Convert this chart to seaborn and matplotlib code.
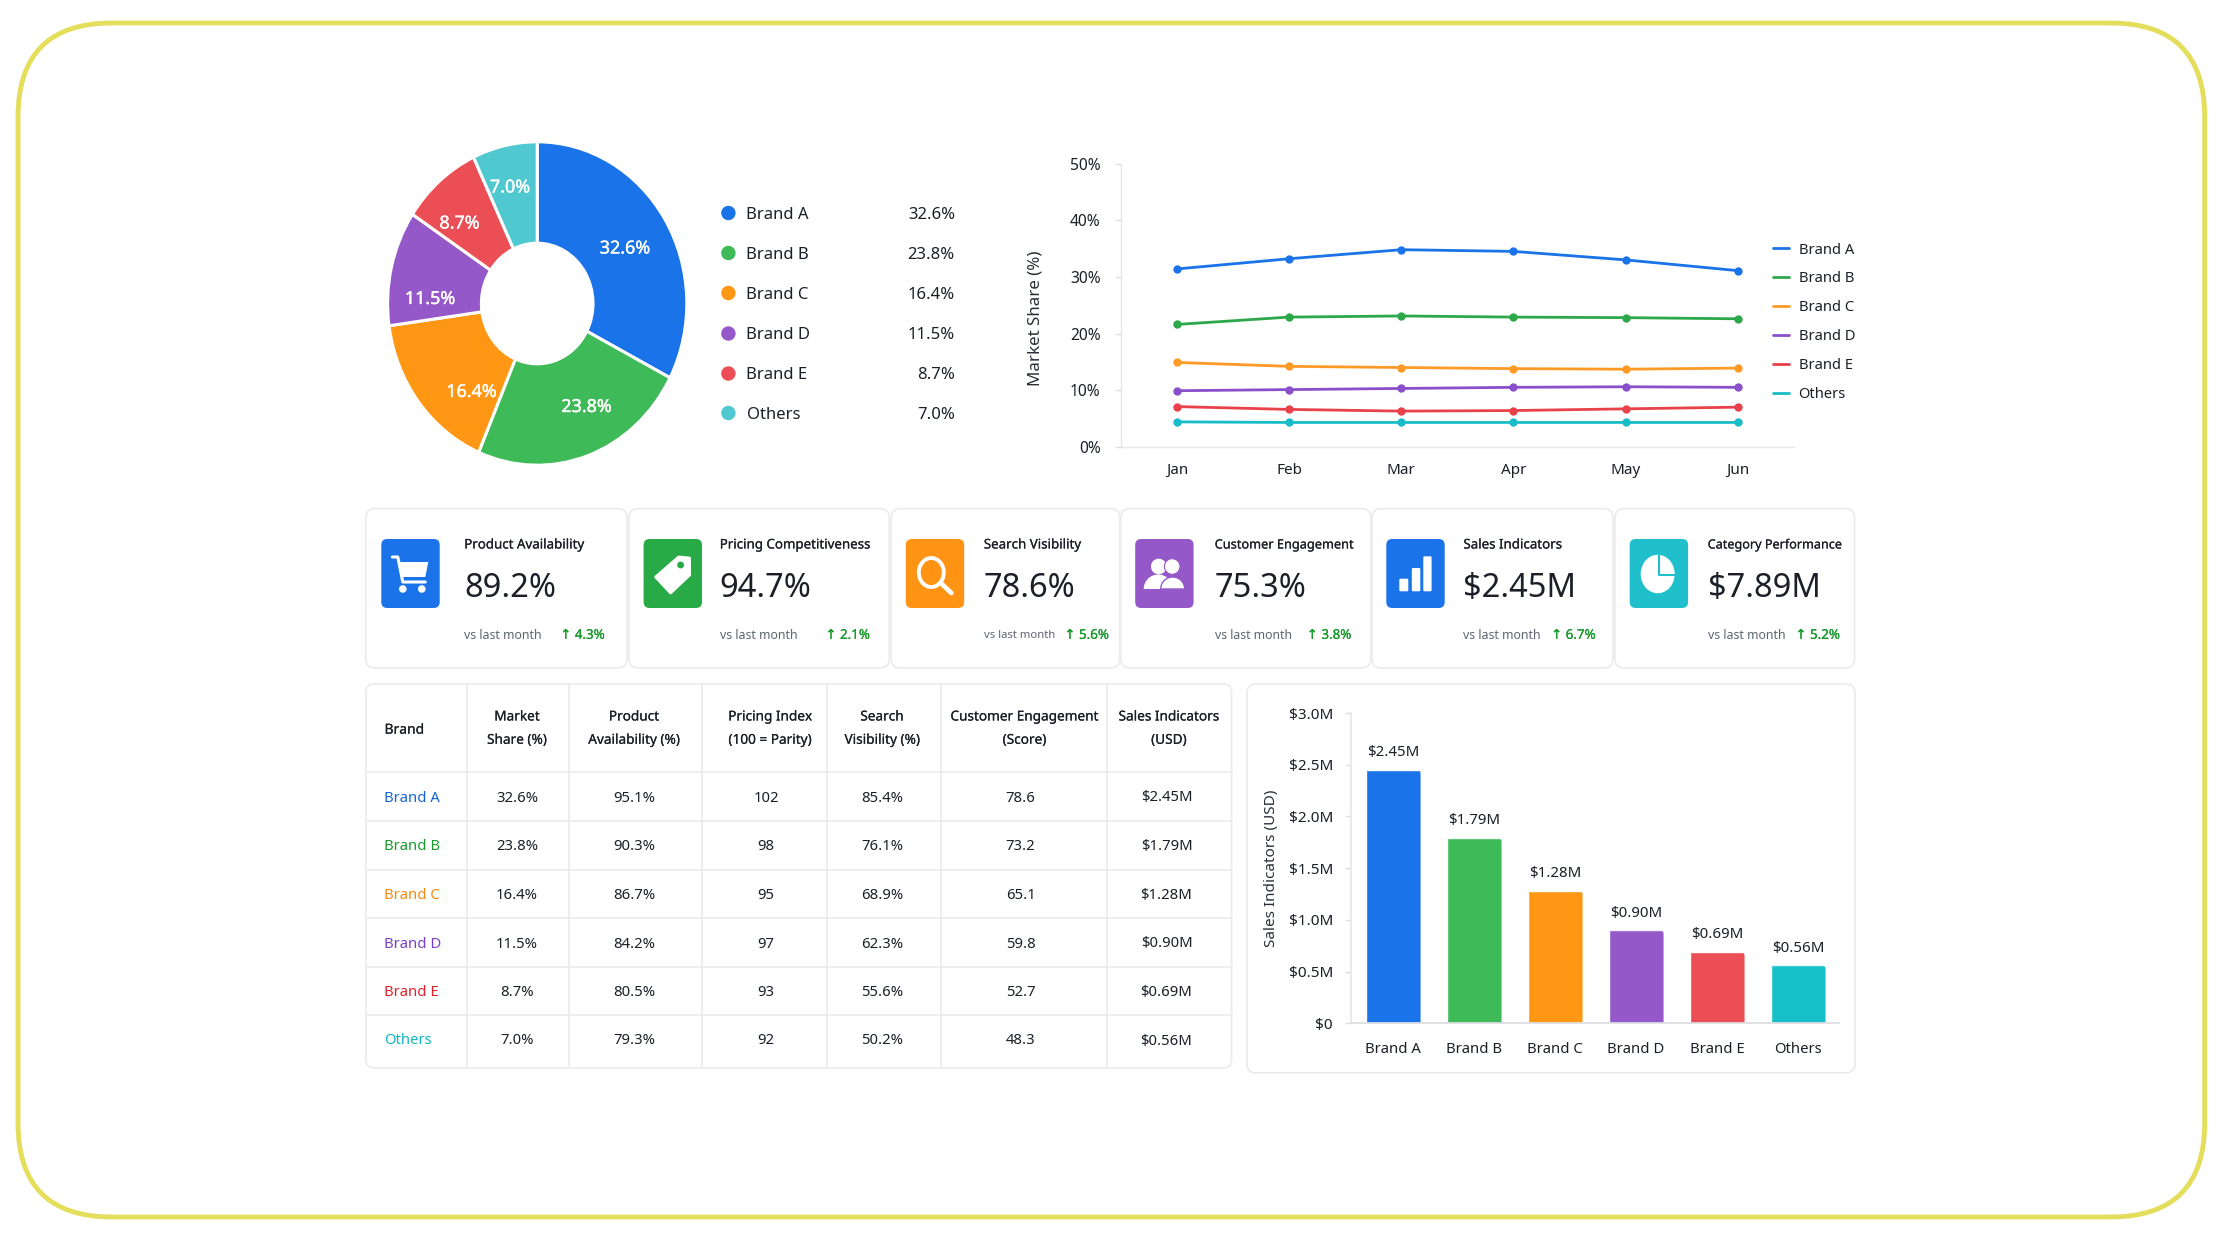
import numpy as np
import pandas as pd
import matplotlib
matplotlib.use("Agg")
import matplotlib.pyplot as plt
import matplotlib.patheffects as pe
from matplotlib.patches import FancyBboxPatch, Circle, Ellipse, Polygon, Wedge
from matplotlib.transforms import IdentityTransform
import seaborn as sns

WIDTH, HEIGHT = 2223, 1240

brands = ["Brand A", "Brand B", "Brand C", "Brand D", "Brand E", "Others"]
share = [32.6, 23.8, 16.4, 11.5, 8.7, 7.0]
sales = [2.45, 1.79, 1.28, 0.90, 0.69, 0.56]
months = ["Jan", "Feb", "Mar", "Apr", "May", "Jun"]

trend_a = [31.4, 33.2, 34.8, 34.5, 33.0, 31.1]
trend_b = [21.6, 22.9, 23.1, 22.9, 22.8, 22.6]
trend_c = [14.9, 14.2, 14.0, 13.8, 13.7, 13.9]
trend_d = [9.9, 10.1, 10.3, 10.5, 10.6, 10.5]
trend_e = [7.1, 6.6, 6.3, 6.4, 6.7, 7.0]
trend_o = [4.4, 4.3, 4.3, 4.3, 4.3, 4.3]

availability = ["95.1%", "90.3%", "86.7%", "84.2%", "80.5%", "79.3%"]
pricing = ["102", "98", "95", "97", "93", "92"]
visibility = ["85.4%", "76.1%", "68.9%", "62.3%", "55.6%", "50.2%"]
engagement = ["78.6", "73.2", "65.1", "59.8", "52.7", "48.3"]

kpi_titles = ["Product Availability", "Pricing Competitiveness", "Search Visibility",
              "Customer Engagement", "Sales Indicators", "Category Performance"]
kpi_values = ["89.2%", "94.7%", "78.6%", "75.3%", "$2.45M", "$7.89M"]
kpi_deltas = ["4.3%", "2.1%", "5.6%", "3.8%", "6.7%", "5.2%"]

pie_colors = ["#1a73e8", "#3fba59", "#ff9714", "#9558c9", "#eb4f55", "#50c8cf"]
bar_colors = ["#1a73e8", "#3fba59", "#ff9714", "#9558c9", "#eb4f55", "#17c0c9"]
line_colors = ["#1a73e8", "#2ca84a", "#ff9a27", "#8a4fcb", "#e8414a", "#17bcc8"]
text_colors = ["#1565d0", "#189a2e", "#f58a12", "#7b3fc4", "#e0202a", "#12b5bf"]
icon_colors = ["#1a73e8", "#28ab46", "#ff9414", "#9558c9", "#1a73e8", "#1fc0cc"]
INK = "#1b1f27"
GREY = "#5f6570"
BORDER = "#eaebed"
UP = "#17992c"

sns.set_theme(style="white")
plt.rcParams["font.family"] = ["Noto Sans", "DejaVu Sans"]
plt.rcParams["text.color"] = INK

fig = plt.figure(figsize=(WIDTH / 100, HEIGHT / 100), dpi=100, facecolor="white")

# Light outline that thickens titles and emphasised numbers
EMPH = [pe.withStroke(linewidth=0.12, foreground=INK)]
EMPH_WHITE = [pe.withStroke(linewidth=0.25, foreground="white")]
EMPH_UP = [pe.withStroke(linewidth=0.15, foreground=UP)]


def px_axes(left, top, right, bottom, **kw):
    """Axes placed by pixel edges, measured from the top-left of the figure."""
    return fig.add_axes([left / WIDTH, 1 - bottom / HEIGHT,
                         (right - left) / WIDTH, (bottom - top) / HEIGHT], **kw)


# Full-figure layer in pixel units for the frame, cards, table and icons
page = px_axes(0, 0, WIDTH, HEIGHT)
page.set_xlim(0, WIDTH)
page.set_ylim(HEIGHT, 0)
page.axis("off")


def rounded(ax, x0, y0, x1, y1, radius, **kw):
    patch = FancyBboxPatch((x0, y0), x1 - x0, y1 - y0,
                           boxstyle=f"round,pad=0,rounding_size={radius}", **kw)
    ax.add_patch(patch)
    return patch


rounded(page, 18, 23, 2204.7, 1217, 94, fc="white", ec="#e5dd5c", lw=3.5)

# --- Donut ---------------------------------------------------------------
donut = px_axes(387.6, 141.8, 686.8, 465.2)
donut.pie(share, colors=pie_colors, startangle=90, counterclock=False, radius=1,
          wedgeprops=dict(width=0.627, edgecolor="white", linewidth=2.2))
donut.set_aspect("auto")
donut.set_xlim(-1, 1)
donut.set_ylim(-1, 1)
donut.patch.set_alpha(0)
pie_label_xy = [(625, 248.5), (586.5, 407), (471.5, 392), (430, 299), (459.5, 223.5), (510, 187.5)]
for value, (lx, ly) in zip(share, pie_label_xy):
    donut.text(lx, ly, f"{value:.1f}%", color="white", fontsize=12.9, ha="center", va="center",
               transform=page.transData, path_effects=EMPH_WHITE, zorder=10)

legend_rows = [213, 253, 293, 333.5, 373.5, 413]
for name, value, colour, y in zip(brands, share, pie_colors, legend_rows):
    page.add_patch(Circle((728.4, y), 7.2, fc=colour, ec="none"))
    page.text(746.5, y + 1.8, name, fontsize=12, ha="left", va="center")
    page.text(955, y + 1.8, f"{value:.1f}%", fontsize=12, ha="right", va="center")

# --- Monthly share lines ---------------------------------------------------
trend_frame = pd.DataFrame({
    "month": months * 6,
    "share": trend_a + trend_b + trend_c + trend_d + trend_e + trend_o,
    "brand": np.repeat(brands, 6),
})
lines = px_axes(1120.7, 163.6, 1794, 446.8)
lines.patch.set_alpha(0)
sns.lineplot(data=trend_frame, x="month", y="share", hue="brand", hue_order=brands,
             palette=dict(zip(brands, line_colors)), marker="o", markersize=6,
             markeredgewidth=0, linewidth=2, sort=False, ax=lines)
lines.set_xlim(-0.5, 5.5)
lines.set_ylim(0, 50)
lines.set_yticks(range(0, 51, 10), [f"{v}%" for v in range(0, 51, 10)])
lines.set_xlabel("")
lines.set_ylabel("Market Share (%)", fontsize=12.2, color="#2a2e36", labelpad=0)
lines.yaxis.set_label_coords(1043, 318, transform=page.transData)
lines.tick_params(axis="y", length=4, width=1, color="#dddfe2", labelsize=11.2,
                  labelcolor=INK, pad=10.5, left=True)
lines.tick_params(axis="x", length=0, labelsize=11, labelcolor=INK, pad=11.5)
sns.despine(ax=lines)
for side in ("left", "bottom"):
    lines.spines[side].set_color("#e6e7ea")
    lines.spines[side].set_linewidth(1)
handles, labels = lines.get_legend_handles_labels()
lines.legend(handles, labels, loc="upper left", frameon=False, fontsize=10.6,
             bbox_to_anchor=(1772.5, 242.5), bbox_transform=page.transData,
             borderaxespad=0, borderpad=0, labelspacing=0.945, handlelength=1.12,
             handletextpad=0.65, labelcolor=INK)
for handle in lines.get_legend().legend_handles:
    handle.set_marker("")

# --- KPI cards -------------------------------------------------------------
card_edges = [(365.8, 627), (629, 889.3), (891.3, 1119.7), (1120.7, 1370.8), (1372, 1613), (1615, 1854.5)]
icon_lefts = [381.3, 643.6, 905.8, 1135.2, 1386.3, 1629.7]
text_lefts = [464.2, 719.7, 983.8, 1214.7, 1463.4, 1707.7]
delta_rights = [604.8, 870, 1109, 1351.4, 1595.7, 1840]
title_sizes = [9.6, 9.6, 9.6, 9.2, 9.6, 9.1]
caption_sizes = [8.9, 8.9, 8.1, 8.8, 8.9, 8.9]
ICON_W, ICON_H = 58.4, 69
ICON_TOP = 539


def draw_icon(kind, x, y, back):
    w = dict(fc="white", ec="none", zorder=5)
    if kind == 0:  # shopping cart
        page.plot([x + 11, x + 16.5, x + 21.5, x + 44], [y + 18, y + 18, y + 43, y + 43],
                  color="white", lw=2.2, zorder=5, solid_joinstyle="round")
        page.add_patch(Polygon([(x + 18, y + 23), (x + 47, y + 23), (x + 44, y + 38), (x + 21, y + 38)], **w))
        page.add_patch(Circle((x + 21.5, y + 50), 3.8, **w))
        page.add_patch(Circle((x + 40.5, y + 50), 3.8, **w))
    elif kind == 1:  # price tag
        page.add_patch(Polygon([(x + 12, y + 38), (x + 35, y + 18), (x + 46, y + 19), (x + 46, y + 36), (x + 27, y + 54)],
                               fc="white", ec="white", lw=2, joinstyle="round", zorder=5))
        page.add_patch(Circle((x + 37, y + 26), 3.4, fc=back, ec="none", zorder=6))
    elif kind == 2:  # magnifier
        page.add_patch(Ellipse((x + 25.5, y + 33.5), 25, 29, fc="none", ec="white", lw=2.8, zorder=5))
        page.plot([x + 35, x + 45.5], [y + 44, y + 54], color="white", lw=3.4, zorder=5,
                  solid_capstyle="round")
    elif kind == 3:  # two people
        page.add_patch(Wedge((x + 23, y + 50), 14.5, 180, 360, **w))
        page.add_patch(Circle((x + 23.5, y + 27.5), 7.8, **w))
        page.add_patch(Wedge((x + 37.5, y + 50), 12, 180, 360, fc="white", ec=back, lw=1, zorder=6))
        page.add_patch(Circle((x + 37, y + 27.5), 7.8, fc="white", ec=back, lw=0.8, zorder=6))
    elif kind == 4:  # rising bars
        for (a, b), top in zip([(13, 22), (25.5, 34), (37, 45.3)], [39.7, 29, 17.3]):
            rounded(page, x + a, y + top, x + b, y + 52.3, 1.2, **w)
    else:  # pie segment
        page.add_patch(Ellipse((x + 28, y + 35), 34, 38.5, **w))
        page.plot([x + 29.5, x + 29.5, x + 46], [y + 15, y + 36, y + 36], color=back, lw=1.5, zorder=6)


for i, (title, value, delta) in enumerate(zip(kpi_titles, kpi_values, kpi_deltas)):
    left, right = card_edges[i]
    rounded(page, left, 508.7, right, 667.9, 9, fc="white", ec=BORDER, lw=1.2)
    x0 = icon_lefts[i]
    rounded(page, x0, ICON_TOP, x0 + ICON_W, ICON_TOP + ICON_H, 6, fc=icon_colors[i], ec="none", zorder=4)
    draw_icon(i, x0, ICON_TOP, icon_colors[i])
    tx = text_lefts[i]
    page.text(tx, 545, title, fontsize=title_sizes[i], ha="left", va="center", path_effects=EMPH)
    page.text(tx, 588.5, value, fontsize=23.5, ha="left", va="center")
    page.text(tx, 635.3, "vs last month", fontsize=caption_sizes[i], color=GREY, ha="left", va="center")
    page.text(delta_rights[i], 635.3, f"↑ {delta}", fontsize=9.6, color=UP, ha="right", va="center",
              path_effects=EMPH_UP)

# --- Brand table -----------------------------------------------------------
rounded(page, 366, 683.9, 1231.6, 1067.9, 8, fc="white", ec=BORDER, lw=1.2)
for x in [466.6, 569.3, 702.4, 827, 941, 1107]:
    page.plot([x, x], [684.2, 1067.3], color=BORDER, lw=1.2)
for y in [771.5, 820.9, 869.5, 917.9, 966.5, 1014.5]:
    page.plot([366, 1231.6], [y, y], color=BORDER, lw=1.2)

header_centres = [517, 634, 770, 882, 1024.5, 1169]
header_lines = [("Market", "Share (%)"), ("Product", "Availability (%)"), ("Pricing Index", "(100 = Parity)"),
                ("Search", "Visibility (%)"), ("Customer Engagement", "(Score)"), ("Sales Indicators", "(USD)")]
page.text(384.5, 730.2, "Brand", fontsize=10, ha="left", va="center", path_effects=EMPH)
for cx, (first, second) in zip(header_centres, header_lines):
    page.text(cx, 717, first, fontsize=9.8, ha="center", va="center", path_effects=EMPH)
    page.text(cx, 740.3, second, fontsize=9.8, ha="center", va="center", path_effects=EMPH)

row_centres = [798, 846.5, 895.5, 944, 992.5, 1041]
value_centres = [517, 634, 766, 882, 1020.6, 1166.5]
share_text = [f"{v:.1f}%" for v in share]
sales_text = [f"${v:.2f}M" for v in sales]
table_columns = [share_text, availability, pricing, visibility, engagement, sales_text]
for r, y in enumerate(row_centres):
    page.text(384.5, y, brands[r], fontsize=10.7, color=text_colors[r], ha="left", va="center")
    for cx, column in zip(value_centres, table_columns):
        page.text(cx, y, column[r], fontsize=10.7, ha="center", va="center")

# --- Sales bars ------------------------------------------------------------
rounded(page, 1247, 683.9, 1855, 1072.9, 9, fc="white", ec=BORDER, lw=1.2)
bars = px_axes(1351, 713, 1838.6, 1023.4)
bars.patch.set_alpha(0)
sales_frame = pd.DataFrame({"brand": brands, "sales": sales})
sns.barplot(data=sales_frame, x="brand", y="sales", hue="brand", order=brands, hue_order=brands,
            palette=dict(zip(brands, bar_colors)), width=0.68, saturation=1, legend=False, ax=bars)
bars.set_xlim(-0.52, 5.5)
bars.set_ylim(0, 3)
tick_values = [0, 0.5, 1.0, 1.5, 2.0, 2.5, 3.0]
bars.set_yticks(tick_values, ["$0"] + [f"${v:.1f}M" for v in tick_values[1:]])
bars.set_xlabel("")
bars.set_ylabel("Sales Indicators (USD)", fontsize=11, color="#2a2e36")
bars.yaxis.set_label_coords(1279, 868, transform=page.transData)
bars.tick_params(axis="y", length=4, width=1, color="#dddfe2", labelsize=11, labelcolor=INK, pad=9, left=True)
bars.tick_params(axis="x", length=0, labelsize=10.7, labelcolor=INK, pad=13.5)
sns.despine(ax=bars)
bars.spines["left"].set_color("#e6e7ea")
bars.spines["bottom"].set_color("#dcdde1")
for container in bars.containers:
    bars.bar_label(container, labels=[f"${v:.2f}M" for v in container.datavalues],
                   padding=7, fontsize=10.8, color=INK)

# Soften the top corners of the bars with a rounded clip in display space
fig.canvas.draw()
for bar in bars.patches:
    box = bar.get_window_extent()
    clip = FancyBboxPatch((box.x0, box.y0 - 10), box.width, box.height + 10,
                          boxstyle="round,pad=0,rounding_size=4", transform=IdentityTransform())
    bar.set_clip_path(clip)

fig.savefig("out.png", dpi=100, facecolor="white")
